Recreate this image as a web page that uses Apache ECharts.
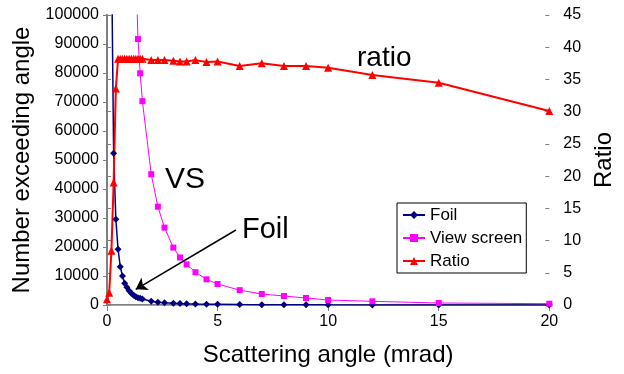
<!DOCTYPE html>
<html><head><meta charset="utf-8">
<script src="https://cdn.jsdelivr.net/npm/echarts@6/dist/echarts.min.js"></script>
<style>html,body{margin:0;padding:0;background:#fff}#c{width:624px;height:374px}</style>
</head><body><div id="c"></div>
<script>
const foilX = [0.2,0.3,0.4,0.5,0.6,0.7,0.8,0.9,1.0,1.1,1.2,1.3,1.4,1.5,1.6,2,2.3,2.6,3,3.3,3.6,4,4.5,5,6,7,8,9,10,12,15,20];
const foilY = [125000,52300,29550,19200,13200,10000,7480,6100,4930,4030,3340,2870,2520,2300,2070,1270,930,780,590,500,420,340,270,220,150,110,90,70,55,40,25,15];
const vsX = [1.3,1.4,1.5,1.6,2,2.3,2.6,3,3.3,3.6,4,4.5,5,6,7,8,9,10,12,15,20];
const vsY = [118000,91700,79900,70300,45100,33900,26700,19800,16400,14000,11300,8860,7240,5120,3790,3100,2410,1720,1270,690,450];
const ratioX = [0,0.1,0.2,0.3,0.4,0.5,0.6,0.7,0.8,0.9,1.0,1.1,1.2,1.3,1.4,1.5,1.6,2,2.3,2.6,3,3.3,3.6,4,4.5,5,6,7,8,9,10,12,15,20];
const ratioY = [0.9,1.9,8.4,19.0,33.6,38.2,38.2,38.2,38.2,38.2,38.2,38.2,38.2,38.2,38.2,38.2,38.2,38.0,38.0,38.0,37.9,37.8,37.8,38.0,37.7,37.8,37.1,37.5,37.1,37.1,36.8,35.7,34.5,30.1];
const seriesNames = ['Foil','View screen','Ratio'];
const annotations = ['ratio','VS','Foil'];
const arrowFrom = [5.83, 25860];
const arrowTo = [1.30, 5410];
const xTitle = 'Scattering angle (mrad)';
const yTitle = 'Number exceeding angle';
const y2Title = 'Ratio';

const F = "'Liberation Sans', Arial, sans-serif";
const pair = (xs, ys) => xs.map((x, i) => [x, ys[i]]);
const chart = echarts.init(document.getElementById('c'), null, {renderer: 'canvas'});
const axisGrey = '#7f7f7f';
chart.setOption({
  animation: false,
  textStyle: {fontFamily: F},
  grid: {left: 107, right: 66, top: 15, bottom: 69, containLabel: false},
  legend: {
    orient: 'vertical', left: 397, top: 203,
    data: seriesNames,
    borderColor: '#000', borderWidth: 1, padding: [3, 4, 3, 5],
    itemWidth: 22, itemHeight: 10, itemGap: 5,
    textStyle: {fontFamily: F, fontSize: 17, color: '#000', lineHeight: 18}
  },
  xAxis: [{
    type: 'value', min: 0, max: 20, interval: 5,
    name: xTitle, nameLocation: 'middle', nameGap: 38,
    nameTextStyle: {fontFamily: F, fontSize: 24, color: '#000'},
    axisLine: {show: true, onZero: false, lineStyle: {color: axisGrey, width: 2}},
    axisTick: {show: true, length: 6, lineStyle: {color: axisGrey, width: 1}},
    axisLabel: {fontFamily: F, fontSize: 16, color: '#000', margin: 9},
    splitLine: {show: false}
  }, {
    type: 'value', min: 0, max: 20, position: 'top',
    axisLine: {show: true, lineStyle: {color: '#a6a6a6', width: 1}},
    axisTick: {show: false}, axisLabel: {show: false}, splitLine: {show: false}
  }],
  yAxis: [{
    type: 'value', min: 0, max: 100000, interval: 10000, position: 'left',
    name: yTitle, nameLocation: 'middle', nameGap: 72, nameRotate: 90,
    nameTextStyle: {fontFamily: F, fontSize: 24, color: '#000'},
    axisLine: {show: true, lineStyle: {color: axisGrey, width: 2}},
    axisTick: {show: true, length: 4, lineStyle: {color: axisGrey}},
    axisLabel: {fontFamily: F, fontSize: 16, color: '#000', margin: 8, formatter: v => String(v)},
    splitLine: {show: false}
  }, {
    type: 'value', min: 0, max: 45, interval: 5, position: 'right',
    name: y2Title, nameLocation: 'middle', nameGap: 42, nameRotate: 90,
    nameTextStyle: {fontFamily: F, fontSize: 24, color: '#000'},
    axisLine: {show: true, lineStyle: {color: axisGrey, width: 2}},
    axisTick: {show: true, length: 4, lineStyle: {color: axisGrey}},
    axisLabel: {fontFamily: F, fontSize: 16, color: '#000', margin: 14},
    splitLine: {show: false}
  }, {
    type: 'value', min: 0, max: 45, interval: 5, position: 'right',
    axisLine: {show: false},
    axisTick: {show: true, inside: true, length: 4, lineStyle: {color: axisGrey}},
    axisLabel: {show: false}, splitLine: {show: false}
  }],
  series: [{
    name: seriesNames[0], type: 'line', xAxisIndex: 0, yAxisIndex: 0,
    data: pair(foilX, foilY),
    symbol: 'diamond', symbolSize: 7, clip: true,
    itemStyle: {color: '#000080'}, lineStyle: {color: '#000080', width: 1.5},
    markLine: {
      silent: true, symbol: ['none', 'arrow'], symbolSize: 11,
      lineStyle: {color: '#000', width: 1.5, type: 'solid'},
      itemStyle: {color: '#000'},
      label: {show: false},
      data: [[{coord: arrowFrom}, {coord: arrowTo}]]
    }
  }, {
    name: seriesNames[1], type: 'line', xAxisIndex: 0, yAxisIndex: 0,
    data: pair(vsX, vsY),
    symbol: 'rect', symbolSize: 6, clip: true,
    itemStyle: {color: '#ff00ff'}, lineStyle: {color: '#ff00ff', width: 1}
  }, {
    name: seriesNames[2], type: 'line', xAxisIndex: 0, yAxisIndex: 1,
    data: pair(ratioX, ratioY),
    symbol: 'triangle', symbolSize: 8, clip: true,
    itemStyle: {color: '#ff0000'}, lineStyle: {color: '#ff0000', width: 2}
  }],
  graphic: [
    {type: 'text', left: 357, top: 44, style: {text: annotations[0], font: "28px 'Liberation Sans', Arial", fill: '#000'}},
    {type: 'text', left: 165, top: 165, style: {text: annotations[1], font: "30px 'Liberation Sans', Arial", fill: '#000'}},
    {type: 'text', left: 242, top: 215, style: {text: annotations[2], font: "29px 'Liberation Sans', Arial", fill: '#000'}}
  ]
});
</script></body></html>
